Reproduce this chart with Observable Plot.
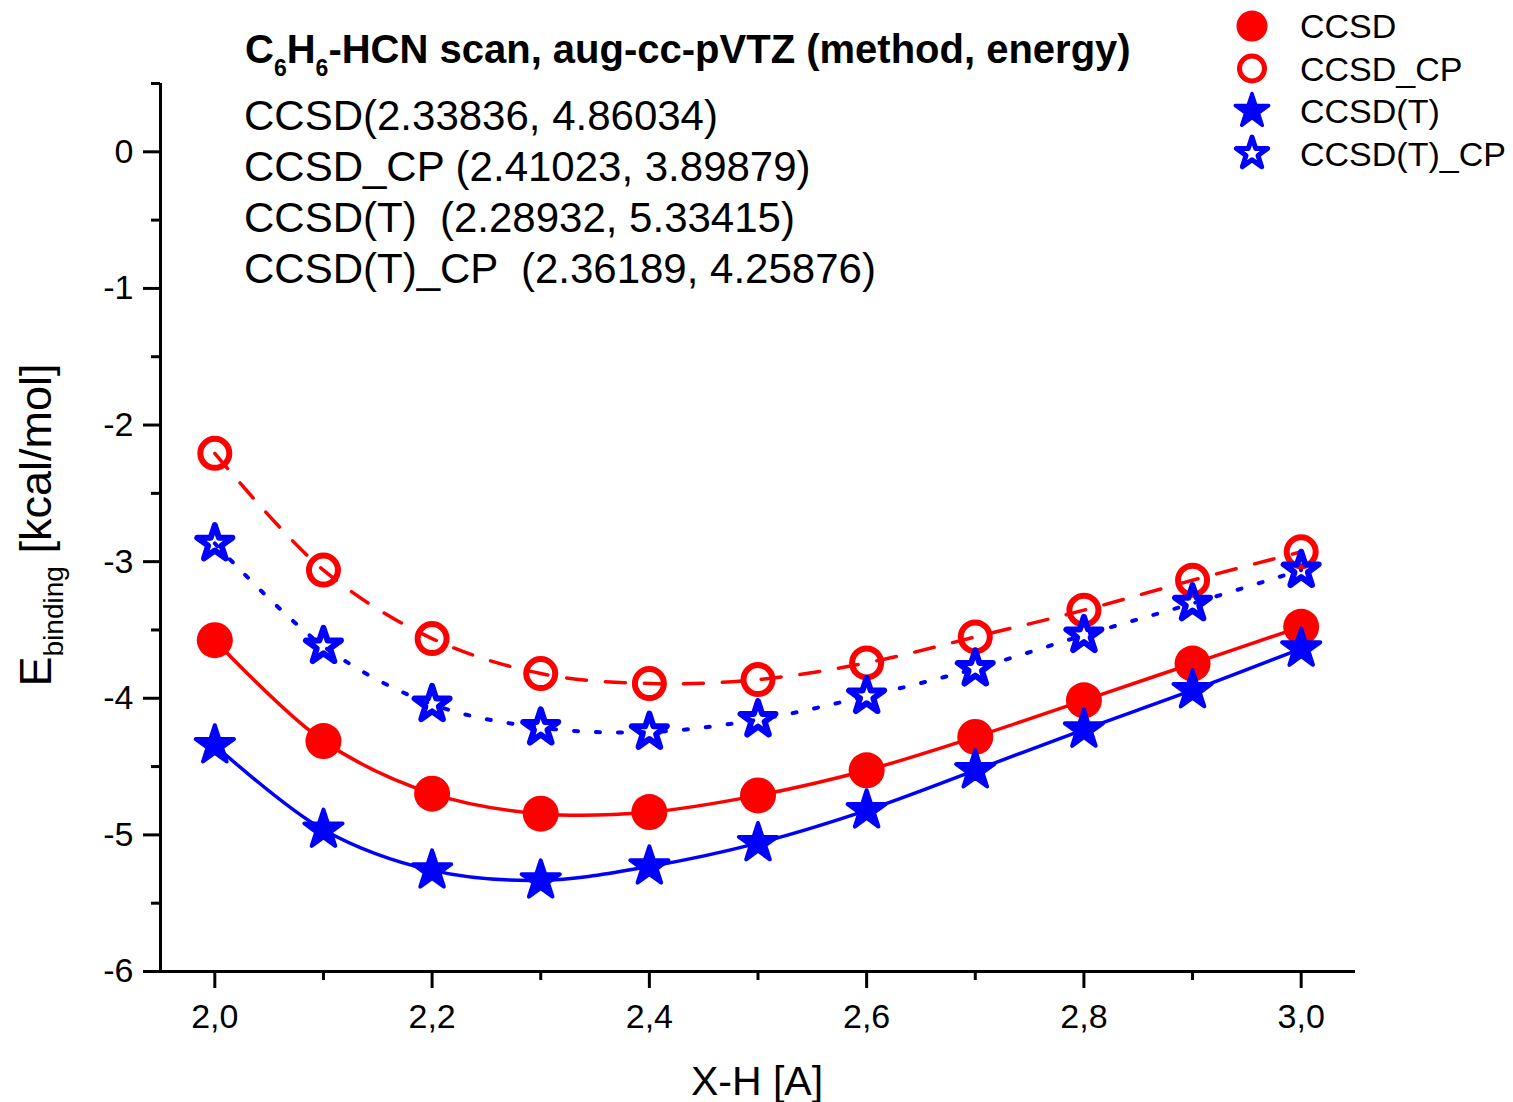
<!DOCTYPE html>
<html>
<head>
<meta charset="utf-8">
<script src="https://cdn.jsdelivr.net/npm/d3@7"></script>
<script src="https://cdn.jsdelivr.net/npm/@observablehq/plot@0.6"></script>
<style>
  body { margin: 0; background: #fff; }
  #chart { position: relative; width: 1513px; height: 1102px; }
</style>
</head>
<body>
<div id="chart"></div>
<script>
// ---- data ----
const distances = [2.0, 2.1, 2.2, 2.3, 2.4, 2.5, 2.6, 2.7, 2.8, 2.9, 3.0];
const ccsd    = [-3.575, -4.313, -4.698, -4.845, -4.833, -4.711, -4.527, -4.283, -4.015, -3.746, -3.477];
const ccsdCP  = [-2.207, -3.062, -3.563, -3.819, -3.892, -3.863, -3.741, -3.551, -3.355, -3.136, -2.928];
const ccsdT   = [-4.344, -4.962, -5.260, -5.333, -5.231, -5.060, -4.820, -4.527, -4.229, -3.941, -3.636];
const ccsdTCP = [-2.867, -3.619, -4.044, -4.215, -4.247, -4.156, -3.985, -3.783, -3.538, -3.306, -3.062];
const seriesNames = ["CCSD", "CCSD_CP", "CCSD(T)", "CCSD(T)_CP"];

const xMajorTicks = [2.0, 2.2, 2.4, 2.6, 2.8, 3.0];
const xMinorTicks = [2.1, 2.3, 2.5, 2.7, 2.9];
const yMajorTicks = [0, -1, -2, -3, -4, -5, -6];
const yMinorTicks = [0.5, -0.5, -1.5, -2.5, -3.5, -4.5, -5.5];

const titleMain = ["C", "6", "H", "6", "-HCN scan, aug-cc-pVTZ (method, energy)"];
const minimaLines = [
  "CCSD(2.33836, 4.86034)",
  "CCSD_CP (2.41023, 3.89879)",
  "CCSD(T)  (2.28932, 5.33415)",
  "CCSD(T)_CP  (2.36189, 4.25876)"
];
const xLabel = "X-H [A]";
const yLabelMain = "E";
const yLabelSub = "binding";
const yLabelUnit = " [kcal/mol]";

// ---- table built from the arrays ----
const seriesValues = [ccsd, ccsdCP, ccsdT, ccsdTCP];
const rows = seriesNames.flatMap((name, s) =>
  distances.map((d, i) => ({x: d, y: seriesValues[s][i], series: name}))
);
const of = name => rows.filter(r => r.series === name);

const FONT = "'Liberation Sans', Arial, sans-serif";
const RED = "#ff0000", BLUE = "#0000ff";
const commaFmt = d => d.toFixed(1).replace(".", ",");

const plot = Plot.plot({
  width: 1513,
  height: 1102,
  marginLeft: 160,
  marginRight: 158,
  marginTop: 83,
  marginBottom: 131,
  style: {fontFamily: FONT, background: "white", color: "black", overflow: "visible"},
  x: {domain: [1.95, 3.05], axis: null},
  y: {domain: [-6, 0.5], axis: null},
  marks: [
    Plot.axisX(xMinorTicks, {anchor: "bottom", tickSize: 9, strokeWidth: 3, tickFormat: () => "", label: null}),
    Plot.axisX(xMajorTicks, {anchor: "bottom", tickSize: 17, strokeWidth: 3, tickPadding: 15, fontSize: 34, tickFormat: commaFmt, label: null}),
    Plot.axisY(yMinorTicks, {anchor: "left", tickSize: 9, strokeWidth: 3, tickFormat: () => "", label: null}),
    Plot.axisY(yMajorTicks, {anchor: "left", tickSize: 17, strokeWidth: 3, tickPadding: 10, fontSize: 34, tickFormat: d => String(d), label: null}),
    Plot.ruleX([1.95], {stroke: "black", strokeWidth: 3}),
    Plot.ruleY([-6], {stroke: "black", strokeWidth: 3}),
    Plot.line(of("CCSD"), {x: "x", y: "y", stroke: RED, strokeWidth: 3.5, curve: "catmull-rom"}),
    Plot.line(of("CCSD_CP"), {x: "x", y: "y", stroke: RED, strokeWidth: 3.5, strokeDasharray: "20,19", curve: "catmull-rom"}),
    Plot.line(of("CCSD(T)"), {x: "x", y: "y", stroke: BLUE, strokeWidth: 3.5, curve: "catmull-rom"}),
    Plot.line(of("CCSD(T)_CP"), {x: "x", y: "y", stroke: BLUE, strokeWidth: 4, strokeDasharray: "4,18", curve: "catmull-rom"}),
    Plot.dot(of("CCSD"), {x: "x", y: "y", r: 18, symbol: "circle", fill: RED, stroke: "none"}),
    Plot.dot(of("CCSD_CP"), {x: "x", y: "y", r: 14.5, symbol: "circle", fill: "none", stroke: RED, strokeWidth: 6}),
    Plot.dot(of("CCSD(T)"), {x: "x", y: "y", r: 12, symbol: "star", fill: BLUE, stroke: BLUE, strokeWidth: 4, strokeLinejoin: "round"}),
    Plot.dot(of("CCSD(T)_CP"), {x: "x", y: "y", r: 11, symbol: "star", fill: "none", stroke: BLUE, strokeWidth: 6, strokeLinejoin: "round"})
  ]
});

document.getElementById("chart").appendChild(plot);

// ---- annotations: title, minima, axis labels, legend ----
const svg = d3.select(plot);

const title = svg.append("text")
  .attr("x", 245).attr("y", 63).attr("text-anchor", "start")
  .attr("font-family", FONT).attr("font-weight", "bold").attr("font-size", 40).attr("fill", "black");
title.append("tspan").text(titleMain[0]);
title.append("tspan").attr("font-size", 23).attr("dy", 13).text(titleMain[1]);
title.append("tspan").attr("dy", -13).text(titleMain[2]);
title.append("tspan").attr("font-size", 23).attr("dy", 13).text(titleMain[3]);
title.append("tspan").attr("dy", -13).text(titleMain[4]);

minimaLines.forEach((t, i) => {
  svg.append("text")
    .attr("x", 244).attr("y", 130 + i * 51).attr("text-anchor", "start")
    .attr("font-family", FONT).attr("font-size", 42).attr("fill", "black")
    .attr("xml:space", "preserve").style("white-space", "pre")
    .text(t);
});

svg.append("text")
  .attr("x", 757).attr("y", 1095).attr("text-anchor", "middle")
  .attr("font-family", FONT).attr("font-size", 41).attr("fill", "black")
  .text(xLabel);

const yl = svg.append("text")
  .attr("transform", "translate(51,525) rotate(-90)")
  .attr("text-anchor", "middle")
  .attr("font-family", FONT).attr("font-size", 45).attr("fill", "black")
  .attr("xml:space", "preserve").style("white-space", "pre");
yl.append("tspan").text(yLabelMain);
yl.append("tspan").attr("font-size", 28).attr("dy", 12).text(yLabelSub);
yl.append("tspan").attr("dy", -12).text(yLabelUnit);

// legend
const legendStyles = [
  {type: d3.symbolCircle, r: 15.5, fill: RED, stroke: "none", sw: 0},
  {type: d3.symbolCircle, r: 12.5, fill: "none", stroke: RED, sw: 5},
  {type: d3.symbolStar, r: 10.5, fill: BLUE, stroke: BLUE, sw: 3.5},
  {type: d3.symbolStar, r: 9.8, fill: "none", stroke: BLUE, sw: 5}
];
seriesNames.forEach((name, i) => {
  const cy = 26 + i * 42.5;
  const st = legendStyles[i];
  svg.append("path")
    .attr("transform", `translate(1252,${cy})`)
    .attr("d", d3.symbol(st.type, st.r * st.r * Math.PI)())
    .attr("fill", st.fill).attr("stroke", st.stroke).attr("stroke-width", st.sw)
    .attr("stroke-linejoin", "round");
  svg.append("text")
    .attr("x", 1300).attr("y", cy + 12).attr("text-anchor", "start")
    .attr("font-family", FONT).attr("font-size", 34).attr("fill", "black")
    .text(name);
});
</script>
</body>
</html>
